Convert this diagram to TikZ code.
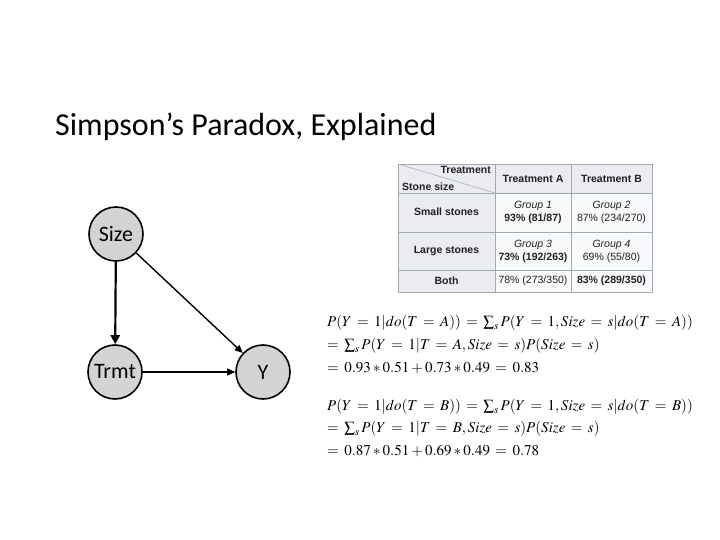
\documentclass[tikz,border=0pt]{standalone}
\usepackage{mathptmx}
\usepackage[no-math]{fontspec}
\setmainfont{Carlito}
\newfontfamily\tabfont{Liberation Sans}
\usetikzlibrary{arrows.meta}
\definecolor{nodegray}{HTML}{D3D3D3}
\definecolor{hdrgray}{HTML}{EAECF0}
\definecolor{cellgray}{HTML}{F8F9FA}
\definecolor{bordergray}{HTML}{A2A9B1}
\definecolor{tabtext}{HTML}{202122}
\thickmuskip=6.5mu plus 2mu
\tikzset{
  varnode/.style={circle, draw=black, line width=1.6pt, fill=nodegray, minimum size=54pt, inner sep=0pt, font=\fontsize{22}{24}\selectfont},
  edgethick/.style={line width=2.2pt, -{Triangle[length=9pt,width=9pt]}},
  edgethin/.style={line width=1.4pt, -{Triangle[length=8pt,width=7pt]}},
  tcell/.style={inner sep=0pt, font=\tabfont\fontsize{10.5}{13}\selectfont, text=tabtext, align=center},
  eqline/.style={anchor=base west, inner sep=0pt, font=\fontsize{15}{17}\selectfont},
}
\begin{document}
\begin{tikzpicture}[x=1pt,y=-1pt]
\useasboundingbox[fill=white] (0,0) rectangle (720,540);
% title
\node[anchor=base west, inner sep=0pt, font=\fontsize{32}{36}\selectfont] (title) at (55,136) {Simpson’s Paradox, Explained};
% graph
\node[varnode] (size) at (116,234) {Size};
\node[varnode] (trmt) at (115,372) {Trmt};
\node[varnode] (y) at (263,372) {Y};
\draw[edgethick] (size) -- (trmt);
\draw[edgethin] (size) -- (y);
\draw[edgethin] (trmt) -- (y);
% table
\fill[hdrgray] (398,164) rectangle (652,193);
\fill[hdrgray] (398,193) rectangle (495,292);
\fill[cellgray] (495,193) rectangle (652,292);
\draw[bordergray, line width=0.8pt] (398,164) rectangle (652,292);
\foreach \xx in {495,571} \draw[bordergray, line width=0.8pt] (\xx,164) -- (\xx,292);
\foreach \yy in {193,232,270} \draw[bordergray, line width=0.8pt] (398,\yy) -- (652,\yy);
\draw[bordergray, line width=0.5pt] (398,164) -- (495,193);
\node[tcell, anchor=north east] (hTreat) at (491,166) {\bfseries Treatment};
\node[tcell, anchor=south west] (hStone) at (402,191) {\bfseries Stone size};
\node[tcell] (hA) at (533,178.5) {\bfseries Treatment A};
\node[tcell] (hB) at (611.5,178.5) {\bfseries Treatment B};
\node[tcell] (rSmall) at (446.5,212) {\bfseries Small stones};
\node[tcell] (rLarge) at (446.5,251) {\bfseries Large stones};
\node[tcell] (rBoth) at (446.5,281) {\bfseries Both};
\node[tcell] (c11) at (533,212) {\itshape Group 1\\\bfseries 93\% (81/87)};
\node[tcell] (c12) at (611.5,212) {\itshape Group 2\\87\% (234/270)};
\node[tcell] (c21) at (533,251) {\itshape Group 3\\\bfseries 73\% (192/263)};
\node[tcell] (c22) at (611.5,251) {\itshape Group 4\\69\% (55/80)};
\node[tcell] (c31) at (533,281) {78\% (273/350)};
\node[tcell] (c32) at (611.5,281) {\bfseries 83\% (289/350)};
% equations
\node[eqline] (e1) at (327,326) {$P(Y=1|do(T=A))=\sum_s P(Y=1, Size=s|do(T=A))$};
\node[eqline] (e2) at (327,349) {$=\sum_s P(Y=1|T=A, Size=s)P(Size=s)$};
\node[eqline] (e3) at (327,372) {$=0.93*0.51+0.73*0.49=0.83$};
\node[eqline] (e4) at (327,410) {$P(Y=1|do(T=B))=\sum_s P(Y=1, Size=s|do(T=B))$};
\node[eqline] (e5) at (327,432) {$=\sum_s P(Y=1|T=B, Size=s)P(Size=s)$};
\node[eqline] (e6) at (327,455) {$=0.87*0.51+0.69*0.49=0.78$};
\end{tikzpicture}
\end{document}
